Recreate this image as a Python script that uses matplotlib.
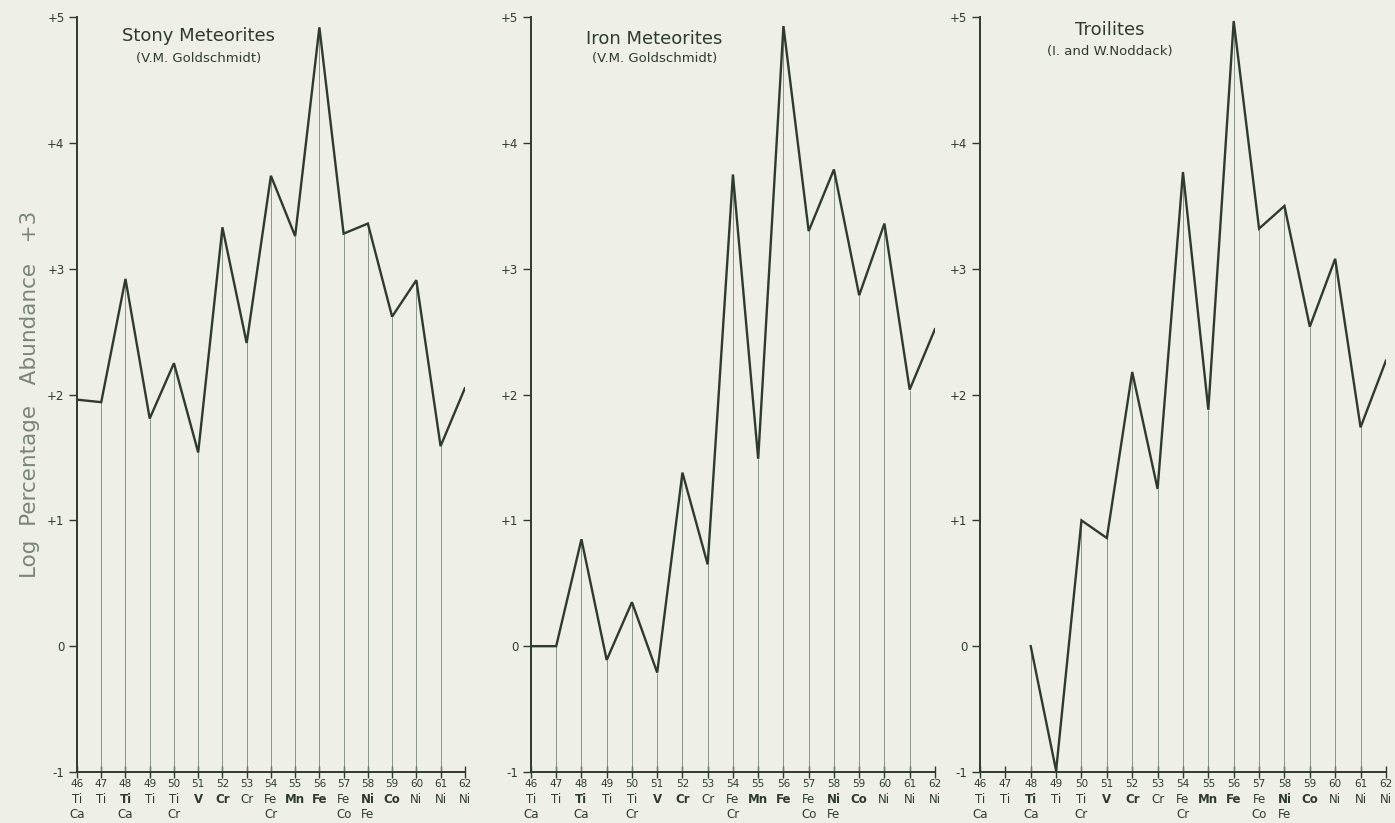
import numpy as np
import matplotlib.pyplot as plt

mass = np.arange(46, 63)
elem1 = ['Ti', 'Ti', 'Ti', 'Ti', 'Ti', 'V', 'Cr', 'Cr', 'Fe', 'Mn', 'Fe', 'Fe', 'Ni', 'Co', 'Ni', 'Ni', 'Ni']
elem2 = ['Ca', '', 'Ca', '', 'Cr', '', '', '', 'Cr', '', '', 'Co', 'Fe', '', '', '', '']
bold1 = [False, False, True, False, False, True, True, False, False, True, True, False, True, True, False, False, False]

stony = [1.96, 1.94, 2.92, 1.81, 2.25, 1.54, 3.33, 2.41, 3.74, 3.26, 4.92,
         3.28, 3.36, 2.62, 2.91, 1.59, 2.05]
iron = [0.0, 0.0, 0.85, -0.11, 0.35, -0.21, 1.38, 0.65, 3.75, 1.49, 4.93,
        3.30, 3.79, 2.79, 3.36, 2.04, 2.52]
troil_mass = np.arange(48, 63)
troilite = [0.0, -0.99, 1.0, 0.86, 2.18, 1.25, 3.77, 1.88, 4.97,
            3.32, 3.50, 2.54, 3.08, 1.74, 2.27]

titles = ['Stony Meteorites', 'Iron Meteorites', 'Troilites']
subtitles = ['(V.M. Goldschmidt)', '(V.M. Goldschmidt)', '(I. and W.Noddack)']
yticks = [-1, 0, 1, 2, 3, 4, 5]
ytick_labels = ['-1', '0', '+1', '+2', '+3', '+4', '+5']

bg = '#eeefe6'
ink = '#2e3a30'
thin = '#7a857a'

plt.rcParams['font.family'] = 'DejaVu Sans'
fig = plt.figure(figsize=(13.95, 8.23), dpi=100, facecolor=bg)

boxes = [[0.0552, 0.062, 0.278, 0.917],
         [0.3806, 0.062, 0.2896, 0.917],
         [0.7025, 0.062, 0.291, 0.917]]
series = [(mass, stony), (mass, iron), (troil_mass, troilite)]
title_x = [51.0, 50.9, 51.1]
title_y = [4.85, 4.83, 4.9]
sub_y = [4.67, 4.67, 4.73]

for k in range(3):
    ax = fig.add_axes(boxes[k])
    ax.set_facecolor(bg)
    x, y = series[k]
    ax.vlines(x, -1, y, color=thin, lw=0.6)
    ax.plot(x, y, color=ink, lw=1.7, solid_joinstyle='miter')
    ax.set_xlim(46, 62)
    ax.set_ylim(-1, 5)
    for s in ['top', 'right']:
        ax.spines[s].set_visible(False)
    for s in ['left', 'bottom']:
        ax.spines[s].set_color(ink)
        ax.spines[s].set_linewidth(1.4)
    ax.set_yticks(yticks)
    ax.set_yticklabels(ytick_labels)
    ax.tick_params(axis='y', direction='out', length=6, width=1.0, color=ink,
                   labelcolor=ink, labelsize=8.5, pad=3)
    ax.set_xticks(mass)
    ax.set_xticklabels([str(m) for m in mass])
    ax.tick_params(axis='x', direction='inout', length=8, width=1.0, color=ink,
                   labelcolor=ink, labelsize=7.5, pad=1)
    tr = ax.get_xaxis_transform()
    for i, m in enumerate(mass):
        ax.text(m, -0.028, elem1[i], transform=tr, ha='center', va='top',
                fontsize=8.5, color=ink, fontweight='bold' if bold1[i] else 'normal')
        if elem2[i]:
            ax.text(m, -0.048, elem2[i], transform=tr, ha='center', va='top',
                    fontsize=8.5, color=ink)
    ax.text(title_x[k], title_y[k], titles[k], ha='center', va='center',
            fontsize=13, color=ink)
    ax.text(title_x[k], sub_y[k], subtitles[k], ha='center', va='center',
            fontsize=9.5, color=ink)
    if k == 0:
        ax.set_ylabel('Log  Percentage   Abundance   +3', fontsize=15.5, color=thin,
                      labelpad=5)

fig.savefig('out.png', dpi=100, facecolor=bg)
